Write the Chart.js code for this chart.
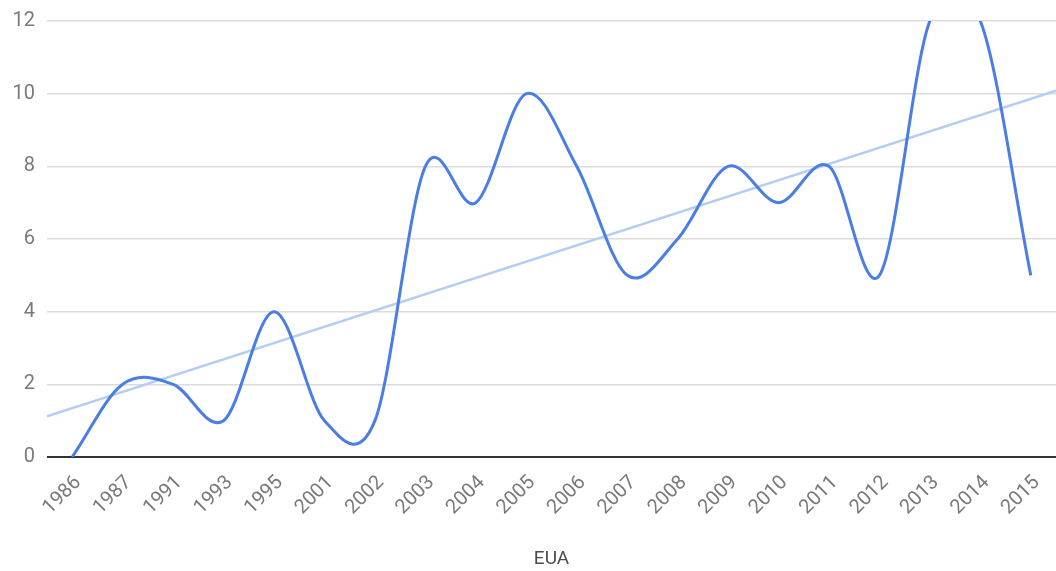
<!DOCTYPE html>
<html>
<head>
<meta charset="utf-8">
<script src="https://cdn.jsdelivr.net/npm/chart.js@4/dist/chart.umd.min.js"></script>
<style>
  html, body { margin: 0; padding: 0; background: #fff; }
  #wrap { width: 1056px; height: 571px; position: relative; }
</style>
</head>
<body>
<div id="wrap"><canvas id="chart"></canvas></div>
<script>
// Years on the category axis
const years = ['1986','1987','1991','1993','1995','2001','2002','2003','2004','2005',
               '2006','2007','2008','2009','2010','2011','2012','2013','2014','2015'];
// Yearly counts
const counts = [0, 2, 2, 1, 4, 1, 1, 8, 7, 10, 8, 5, 6, 8, 7, 8, 5, 12, 12, 5];
// Linear trend, taken at the left and right edges of the plot
const trendX = [-0.5, 19.5];
const trendY = [1.12, 10.08];
// Value axis ticks
const yTicks = [0, 2, 4, 6, 8, 10, 12];

const FONT = 'Roboto, "Noto Sans", sans-serif';

// Smooth the main series with a uniform Catmull-Rom spline (evenly weighted
// neighbours) instead of Chart.js' distance-weighted control points.
const catmullRom = {
  id: 'catmullRom',
  beforeDatasetDraw(chart, args) {
    if (args.index !== 0) return;
    const line = args.meta.dataset;
    const pts = args.meta.data;
    line.updateControlPoints(chart.chartArea, 'x');
    const n = pts.length;
    for (let i = 0; i < n; i++) {
      const p = pts[i];
      const prev = pts[Math.max(i - 1, 0)];
      const next = pts[Math.min(i + 1, n - 1)];
      const k = (i === 0 || i === n - 1) ? 1 / 3 : 1 / 6;
      const dx = (next.x - prev.x) * k;
      const dy = (next.y - prev.y) * k;
      p.cp1x = p.x - dx; p.cp1y = p.y - dy;
      p.cp2x = p.x + dx; p.cp2y = p.y + dy;
    }
    line._path = undefined;
  }
};

new Chart(document.getElementById('chart'), {
  type: 'line',
  data: {
    labels: years,
    datasets: [
      {
        label: 'EUA',
        data: counts,
        xAxisID: 'x',
        borderColor: '#4a7ee6',
        borderWidth: 3,
        pointRadius: 0,
        pointHoverRadius: 0,
        tension: 0.4,
        capBezierPoints: false,
        fill: false,
        order: 1
      },
      {
        label: 'Tendência',
        data: trendX.map((x, i) => ({ x: x, y: trendY[i] })),
        xAxisID: 'xt',
        borderColor: '#b5cdf3',
        borderWidth: 2.5,
        pointRadius: 0,
        pointHoverRadius: 0,
        tension: 0,
        fill: false,
        order: 2
      }
    ]
  },
  options: {
    responsive: true,
    maintainAspectRatio: false,
    animation: false,
    layout: { padding: { top: 21, right: 0, left: 0, bottom: 0 } },
    plugins: {
      legend: { display: false },
      tooltip: { enabled: false }
    },
    scales: {
      x: {
        type: 'category',
        offset: true,
        border: { display: false },
        grid: { display: false, drawTicks: false },
        ticks: {
          autoSkip: false,
          maxRotation: 45,
          minRotation: 45,
          padding: 14,
          labelOffset: 6,
          color: '#7a7a7a',
          font: { family: FONT, size: 20 }
        },
        title: {
          display: true,
          text: 'EUA',
          color: '#4d4d4d',
          font: { family: FONT, size: 19 },
          padding: { top: 18, bottom: 0 }
        },
        afterFit: (s) => { s.height = 114; s.paddingLeft = 0; s.paddingRight = 0; }
      },
      xt: {
        type: 'linear',
        display: false,
        min: -0.5,
        max: 19.5
      },
      y: {
        min: 0,
        max: 12,
        border: { display: false },
        afterBuildTicks: (s) => { s.ticks = yTicks.map(v => ({ value: v })); },
        afterFit: (s) => { s.width = 47; s.paddingTop = 0; s.paddingBottom = 0; },
        grid: {
          drawTicks: false,
          color: (ctx) => ctx.tick && ctx.tick.value === 0 ? '#333333' : '#dcdcdc',
          lineWidth: (ctx) => ctx.tick && ctx.tick.value === 0 ? 2 : 1.5
        },
        ticks: {
          padding: 12,
          color: '#7a7a7a',
          font: { family: FONT, size: 20 }
        }
      }
    }
  },
  plugins: [catmullRom]
});
</script>
</body>
</html>
